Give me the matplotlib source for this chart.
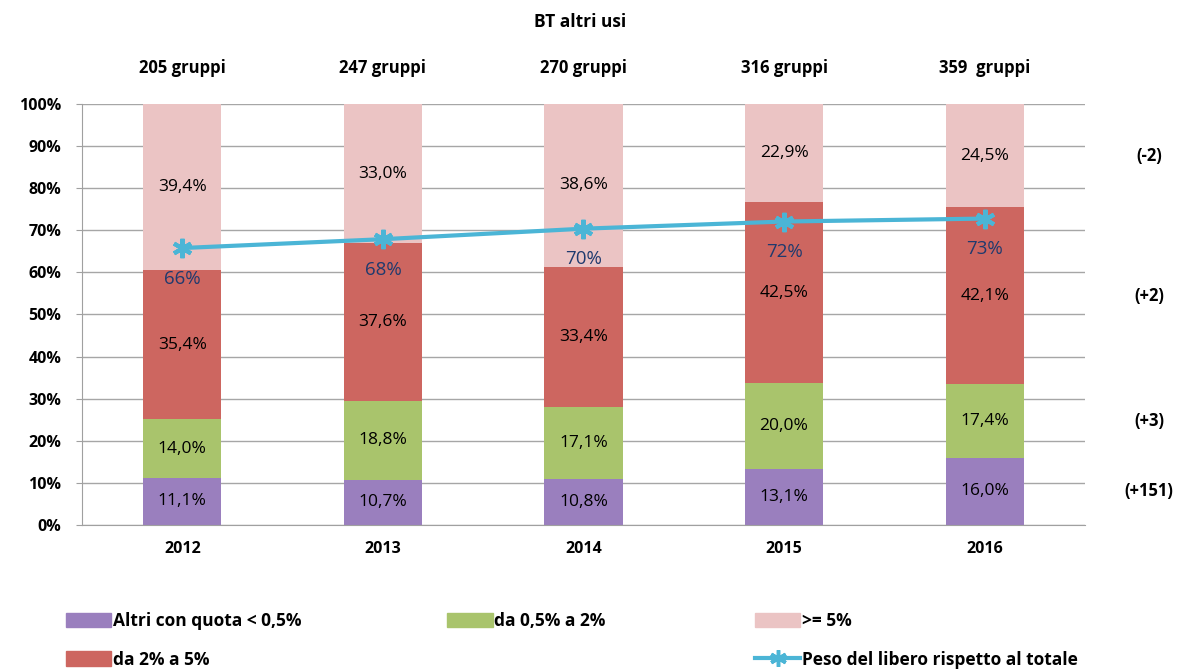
import numpy as np
import matplotlib.pyplot as plt
from matplotlib.patches import Patch
from matplotlib.lines import Line2D

plt.rcParams['font.family'] = ['Open Sans', 'DejaVu Sans']

# data
years = ['2012', '2013', '2014', '2015', '2016']
gruppi = ['205 gruppi', '247 gruppi', '270 gruppi', '316 gruppi', '359  gruppi']
altri = [11.1, 10.7, 10.8, 13.1, 16.0]
da05a2 = [14.0, 18.8, 17.1, 20.0, 17.4]
da2a5 = [35.4, 37.6, 33.4, 42.5, 42.1]
oltre5 = [39.4, 33.0, 38.6, 22.9, 24.5]
peso_libero = [65.8, 67.9, 70.4, 72.1, 72.8]
variazioni = ['(+151)', '(+3)', '(+2)', '(-2)']

series = [altri, da05a2, da2a5, oltre5]
names = ['Altri con quota < 0,5%', 'da 0,5% a 2%', 'da 2% a 5%', '>= 5%']
colors = ['#9A7FBE', '#A9C46C', '#CD6660', '#EBC4C4']
line_col = '#4BB5D6'

fig = plt.figure(figsize=(11.84, 6.72), dpi=100)
ax = fig.add_axes([0.0693, 0.219, 0.847, 0.626])

x = np.arange(len(years))
# 100% stacked: each column scaled to its total
totals = np.sum(np.array(series), axis=0)
bottom = np.zeros(len(years))
mids_last = []
for vals, col in zip(series, colors):
    vals = np.array(vals)
    h = vals / totals * 100
    ax.bar(x, h, 0.39, bottom=bottom, color=col, zorder=2)
    for xi, b, hv, v in zip(x, bottom, h, vals):
        ax.text(xi, b + hv / 2, ('%.1f%%' % v).replace('.', ','), ha='center', va='center',
                fontsize=12.5, color='black', zorder=4)
    mids_last.append(bottom[-1] + h[-1] / 2)
    bottom = bottom + h

ax.plot(x, peso_libero, color=line_col, lw=3, marker=(6, 2, 0), ms=14, mew=3,
        mec=line_col, zorder=3)
for xi, v in zip(x, peso_libero):
    ax.annotate('%d%%' % round(v), (xi, v), xytext=(0, -22), textcoords='offset points',
                ha='center', va='center', fontsize=13.5, color='#1F3A6E', zorder=4)

# variations to the right, at the middle of the last bar segments
for mid, lab in zip(mids_last, variazioni):
    ax.text(4.82, mid, lab, ha='center', va='center', fontsize=12, fontweight='bold')

for xi, g in zip(x, gruppi):
    ax.text(xi, 108.5, g, ha='center', va='center', fontsize=12, fontweight='bold')
fig.text(0.49, 0.967, 'BT altri usi', ha='center', va='center', fontsize=12.5, fontweight='bold')

ax.set_xlim(-0.5, 4.5)
ax.set_ylim(0, 100)
ax.set_yticks(np.arange(0, 101, 10))
ax.set_yticklabels(['%d%%' % v for v in range(0, 101, 10)], fontsize=11.5, fontweight='bold')
ax.set_xticks(x)
ax.set_xticklabels(years, fontsize=11.5, fontweight='bold')
ax.tick_params(axis='x', length=0, pad=12)
ax.tick_params(axis='y', length=4, color='#A0A0A0', pad=11)
ax.grid(axis='y', color='#A6A6A6', lw=1, zorder=0)
for s in ['top', 'right']:
    ax.spines[s].set_visible(False)
ax.spines['left'].set_color('#A0A0A0')
ax.spines['bottom'].set_color('#A0A0A0')

# legend
hp = [Patch(color=c) for c in colors]
hl = Line2D([], [], color=line_col, lw=3, marker=(6, 2, 0), ms=12, mew=2.5)
kw = dict(frameon=False, handlelength=2.6, handleheight=0.9, handletextpad=0.1,
          labelspacing=1.2, borderaxespad=0, prop={'weight': 'bold', 'size': 12.5})
fig.legend([hp[0], hp[2]], [names[0], names[2]], loc='upper left',
           bbox_to_anchor=(0.05, 0.1), **kw)
fig.legend([hp[1]], [names[1]], loc='upper left', bbox_to_anchor=(0.372, 0.1), **kw)
fig.legend([hp[3], hl], [names[3], 'Peso del libero rispetto al totale'],
           loc='upper left', bbox_to_anchor=(0.632, 0.1), **kw)

fig.savefig('out.png', dpi=100)
